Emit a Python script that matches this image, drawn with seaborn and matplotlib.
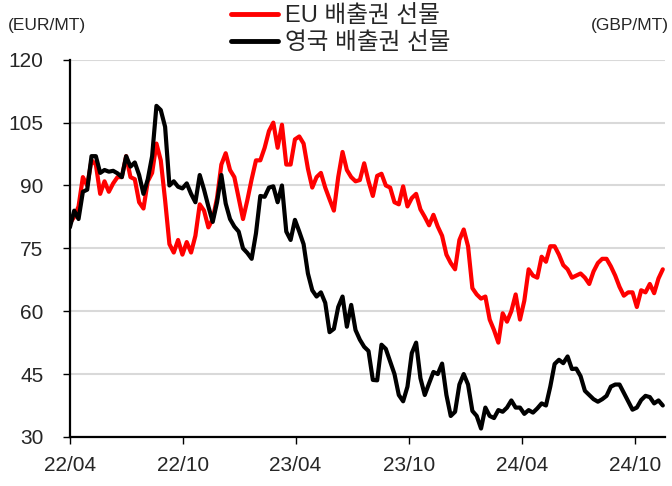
import pandas as pd
import matplotlib
matplotlib.use('Agg')
import matplotlib.pyplot as plt
import matplotlib.dates as mdates
import seaborn as sns

# ================= DATOS (semanal) =================
start_date = '2022-04-01'

eu_futures = [
    81, 82.5, 85, 92, 90, 96, 95, 88, 91, 88.5, 90.5, 92, 92, 97, 92, 91.5,
    86, 84.5, 91, 93, 100, 96, 86.5, 76, 74, 77, 73.5, 76.5, 74, 78, 85.5,
    84, 80, 82, 87, 95, 97.7, 93.7, 92, 87, 82, 86.5, 91.5, 96, 96, 99, 103,
    105, 99, 104.5, 95, 95, 101, 101.7, 100, 94, 89.5, 92, 93, 89.5, 86.7,
    84, 92, 98, 93.7, 92, 91, 91.3, 95.3, 91, 87.5, 92.3, 92.8, 90, 89.5,
    86, 85.5, 89.8, 85, 87, 88, 84.3, 82.5, 80.5, 83, 80.2, 78, 73.5, 71.5,
    70, 77, 79.5, 75.5, 65.5, 64, 63, 63.5, 58, 55.5, 52.5, 59.5, 57.5, 60,
    64, 58, 62.5, 70, 68.5, 68, 73, 71.8, 75.5, 75.5, 73.5, 71, 70, 68, 68.5,
    69, 68, 66.5, 69.5, 71.5, 72.5, 72.5, 70.7, 68.5, 65.8, 63.7, 64.5, 64.5,
    61, 65, 64.5, 66.5, 64.3, 67.8, 70,
]

uk_futures = [
    80, 84, 82, 88.5, 89, 97, 97, 93, 93.7, 93.3, 93.5, 92.9, 92, 97, 94.5,
    95.5, 92.5, 88, 91.5, 97, 109, 108, 104, 90, 91, 89.7, 89.3, 90.5, 88, 86,
    92.5, 89, 85, 81.3, 86, 92.5, 85.7, 82, 80.2, 79, 75, 73.9, 72.5, 78.6,
    87.5, 87.3, 89.5, 89.8, 86, 90, 79, 77, 81.8, 79, 76, 69, 65, 63.5, 64.5,
    62, 55, 55.8, 61, 63.5, 56.3, 61.5, 55.5, 53.2, 51.5, 50.5, 43.6, 43.5,
    52, 51, 48, 45, 40, 38.5, 42, 50, 52.5, 44, 40, 42.8, 45.5, 45, 47.5, 40,
    35, 36, 42.5, 45, 42.5, 36.2, 35, 32, 37, 35, 34.5, 36.4, 36, 37, 38.7,
    37, 37, 35.5, 36.4, 35.8, 36.8, 38, 37.5, 42, 47.4, 48.4, 47.6, 49.2,
    46.2, 46.3, 44.5, 41, 40, 39, 38.4, 39, 39.8, 42, 42.5, 42.5, 40.5, 38.5,
    36.5, 37, 38.8, 39.8, 39.5, 38, 38.7, 37.5,
]

series_names = ['EU 배출권 선물', '영국 배출권 선물']
series_colors = ['#ff0000', '#000000']
y_ticks = [30, 45, 60, 75, 90, 105, 120]
x_ticks = ['2022-04-01', '2022-10-01', '2023-04-01', '2023-10-01', '2024-04-01', '2024-10-01']

dates = pd.date_range(start_date, periods=len(eu_futures), freq='7D')
df = pd.concat([
    pd.DataFrame({'fecha': dates, 'precio': eu_futures, 'serie': series_names[0]}),
    pd.DataFrame({'fecha': dates, 'precio': uk_futures, 'serie': series_names[1]}),
], ignore_index=True)

# ================= GRÁFICO =================
sns.set_style('white')
plt.rcParams['font.family'] = ['Liberation Sans', 'Noto Sans CJK KR', 'DejaVu Sans']

fig = plt.figure(figsize=(6.72, 4.86), dpi=100)
ax = fig.add_axes([0.104, 0.101, 0.886, 0.776])

for y in y_ticks:
    ax.axhline(y, color='#d9d9d9', linewidth=1.5, zorder=0)

sns.lineplot(
    data=df, x='fecha', y='precio', hue='serie',
    palette=dict(zip(series_names, series_colors)),
    linewidth=3, ax=ax,
)

ax.set_ylim(30, 120)
ax.set_yticks(y_ticks)
ax.set_xlim(pd.Timestamp(start_date), dates[-1] + pd.Timedelta(days=4))
ax.set_xticks(pd.to_datetime(x_ticks))
ax.xaxis.set_major_formatter(mdates.DateFormatter('%y/%m'))
ax.set_xlabel('')
ax.set_ylabel('')
ax.tick_params(axis='both', labelsize=15, length=5, width=1, color='black',
               direction='out', left=True, bottom=True)
ax.tick_params(axis='x', pad=9)
ax.tick_params(axis='y', pad=14)
for side in ['top', 'right']:
    ax.spines[side].set_visible(False)
for side in ['left', 'bottom']:
    ax.spines[side].set_color('black')
    ax.spines[side].set_linewidth(1.6)

leg = ax.legend(loc='upper center', bbox_to_anchor=(0.455, 1.17), ncol=1,
                frameon=False, fontsize=17, handlelength=2.0, handletextpad=0.3,
                labelspacing=0.2, borderaxespad=0)
for line in leg.get_lines():
    line.set_linewidth(3.5)

fig.text(0.012, 0.948, '(EUR/MT)', fontsize=12.5, va='center', ha='left')
fig.text(0.995, 0.948, '(GBP/MT)', fontsize=12.5, va='center', ha='right')

plt.savefig('out.png', dpi=100)
